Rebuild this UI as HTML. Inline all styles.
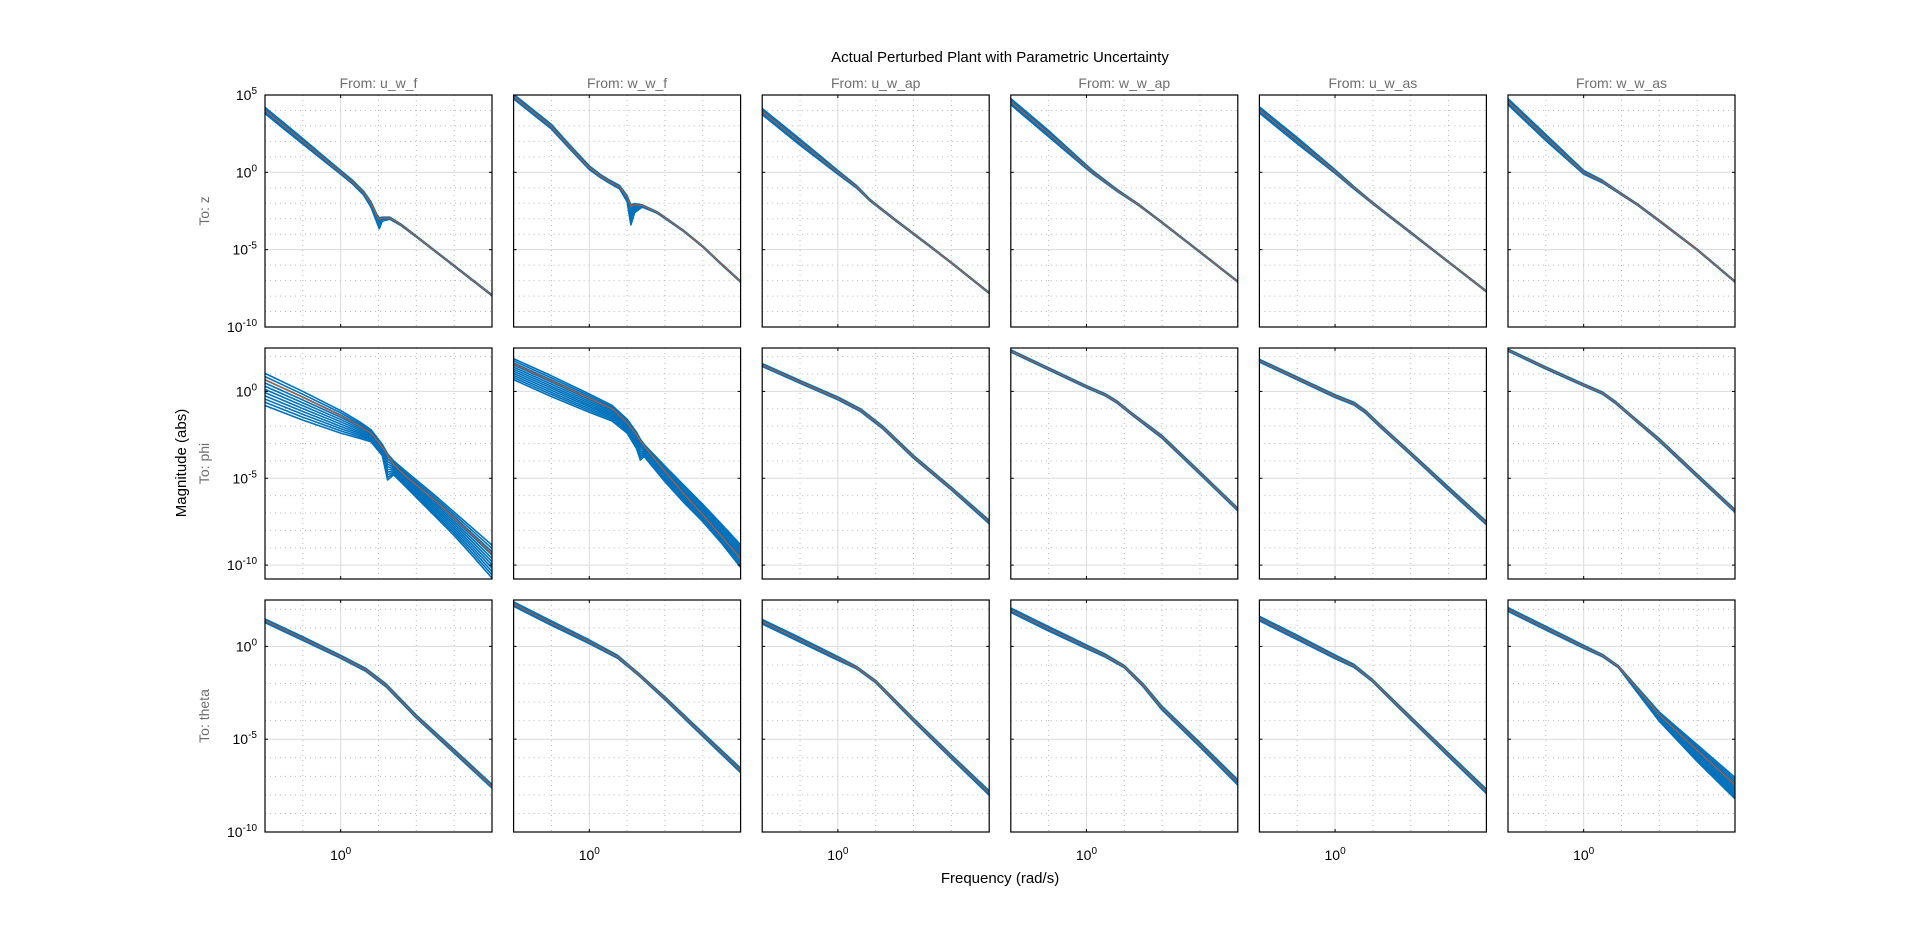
<!DOCTYPE html>
<html><head><meta charset="utf-8">
<style>
html,body{margin:0;padding:0;background:#fff;}
svg{display:block;font-family:"Liberation Sans",Arial,sans-serif;}
</style></head>
<body>
<svg id="fig" width="1920" height="936" viewBox="0 0 1920 936" xmlns="http://www.w3.org/2000/svg">
<rect width="1920" height="936" fill="#fff"/>
<text x="1000" y="62" font-size="15" text-anchor="middle" fill="#000">Actual Perturbed Plant with Parametric Uncertainty</text>
<text transform="translate(186,463) rotate(-90)" font-size="15" text-anchor="middle" fill="#000">Magnitude (abs)</text>
<text x="1000" y="883" font-size="15" text-anchor="middle" fill="#000">Frequency  (rad/s)</text>
<g id="panels"></g>
</svg>
<script>
// ---- data ----
const inputNames = ["u_w_f","w_w_f","u_w_ap","w_w_ap","u_w_as","w_w_as"];
const outputNames = ["z","phi","theta"];
const rowYLim = [[-10,5],[-10.8,2.5],[-10,2.5]];
const rowYTicks = [[5,0,-5,-10],[0,-5,-10],[0,-5,-10]];
const xLim = [-2,4];
// log10 frequency / log10 magnitude samples, per panel (row-major)
const xs = [
 [-2,-1.5,-1,-0.5,0,0.3,0.6,0.8,0.95,1.02,1.1,1.3,1.6,2,2.5,3,3.5,4],
 [-2,-1,-0.5,0,0.3,0.5,0.8,1.0,1.1,1.2,1.4,1.8,2.5,3,3.5,4],
 [-2,-1,0,0.5,0.85,1.5,2.5,3,4],
 [-2,-1,0,0.17,0.8,1.38,2,3,4],
 [-2,-1,0,0.5,1,2,3,4],
 [-2,-1,0,0.5,0.9,1.4,1.9,3,4],
 [-2,-1,0,0.5,0.8,1.1,1.24,1.4,1.7,2.5,3,3.5,4],
 [-2,-1,0,0.6,1.0,1.25,1.35,1.45,2,2.5,3,3.5,4],
 [-2,-1,0,0.6,1.2,2,3,4],
 [-2,-1,0,0.5,0.8,1.2,2,3,4],
 [-2,-1,0,0.5,0.8,1.2,2,3,4],
 [-2,-1,0,0.5,0.85,1.3,2,3,4],
 [-2,-1,0,0.67,1.2,2,3,4],
 [-2,-1,0,0.75,1.3,2,3,4],
 [-2,-1,0,0.5,1,2,3,4],
 [-2,-1,0,0.5,1,1.5,2,3,4],
 [-2,-1,0,0.5,0.97,2,3,4],
 [-2,-1,0,0.5,0.92,2,3,4]
];
const nominal = [
 [4.0,3.0,2.0,1.0,0,-0.6,-1.3,-2.0,-2.8,-3.05,-2.95,-2.95,-3.4,-4.15,-5.1,-6.05,-7.0,-7.95],
 [4.9,2.95,1.6,0.3,-0.25,-0.55,-0.95,-1.6,-2.2,-2.1,-2.15,-2.6,-3.8,-4.8,-5.95,-7.07],
 [3.93,1.95,0,-0.95,-1.8,-3.05,-4.9,-5.85,-7.8],
 [4.57,2.5,0.35,0,-1.15,-2.1,-3.25,-5.15,-7.07],
 [4.03,2.05,0.05,-1.0,-2.0,-3.9,-5.8,-7.7],
 [4.57,2.25,0,-0.6,-1.25,-2.05,-2.95,-5.0,-7.07],
 [0.69,-0.35,-1.4,-2.0,-2.4,-3.2,-3.7,-4.2,-4.85,-6.3,-7.3,-8.3,-9.35],
 [1.58,0.6,-0.4,-1.0,-1.8,-2.5,-2.85,-3.15,-4.6,-5.9,-7.1,-8.35,-9.63],
 [1.52,0.55,-0.4,-1.08,-2.1,-3.77,-5.6,-7.52],
 [2.33,1.3,0.27,-0.2,-0.6,-1.3,-2.62,-4.7,-6.8],
 [1.77,0.75,-0.27,-0.7,-1.17,-2.0,-3.58,-5.6,-7.58],
 [2.38,1.35,0.37,-0.1,-0.65,-1.5,-2.8,-4.85,-6.88],
 [1.38,0.42,-0.56,-1.27,-2.1,-3.78,-5.65,-7.54],
 [2.28,1.25,0.25,-0.56,-1.5,-2.8,-4.75,-6.68],
 [1.33,0.35,-0.65,-1.15,-1.9,-3.96,-5.95,-7.9],
 [1.95,0.95,-0.02,-0.5,-1.09,-2.1,-3.33,-5.3,-7.33],
 [1.5,0.48,-0.56,-1.05,-1.81,-3.87,-5.85,-7.81],
 [1.99,0.98,-0.02,-0.5,-1.09,-3.69,-5.6,-7.46]
];
// uncertainty envelope offsets (decades) above / below nominal
const upperOff = [
 [0.2,0.2,0.18,0.15,0.12,0.12,0.1,0.1,0.1,0.1,0.05,0.05,0.04,0.03,0.03,0.03,0.03,0.03],
 [0.15,0.15,0.13,0.12,0.1,0.1,0.1,0.1,0.1,0.08,0.05,0.04,0.03,0.03,0.03,0.03],
 [0.2,0.2,0.12,0.08,0.05,0.04,0.03,0.03,0.03],
 [0.2,0.2,0.12,0.1,0.06,0.04,0.03,0.03,0.03],
 [0.2,0.2,0.12,0.08,0.05,0.04,0.03,0.03],
 [0.2,0.2,0.12,0.08,0.05,0.04,0.04,0.03,0.03],
 [0.35,0.35,0.3,0.25,0.2,0.15,0.1,0.2,0.3,0.3,0.35,0.4,0.5],
 [0.3,0.3,0.25,0.2,0.2,0.15,0.1,0.1,0.3,0.5,0.6,0.7,0.8],
 [0.08,0.08,0.08,0.08,0.08,0.08,0.08,0.1],
 [0.06,0.06,0.06,0.06,0.06,0.06,0.08,0.08,0.08],
 [0.08,0.08,0.08,0.08,0.08,0.08,0.08,0.1,0.1],
 [0.06,0.06,0.06,0.06,0.06,0.06,0.08,0.08,0.08],
 [0.1,0.1,0.08,0.08,0.08,0.08,0.1,0.1],
 [0.12,0.12,0.1,0.08,0.06,0.08,0.1,0.12],
 [0.12,0.12,0.1,0.06,0.06,0.08,0.1,0.12],
 [0.12,0.12,0.1,0.08,0.06,0.08,0.1,0.12,0.14],
 [0.12,0.12,0.1,0.08,0.06,0.08,0.1,0.12],
 [0.1,0.1,0.08,0.06,0.04,0.15,0.3,0.4]
];
const lowerOff = [
 [0.2,0.2,0.18,0.15,0.12,0.12,0.15,0.25,0.4,0.6,0.2,0.08,0.05,0.03,0.03,0.03,0.03,0.03],
 [0.15,0.15,0.13,0.12,0.1,0.1,0.12,0.3,1.2,0.5,0.1,0.05,0.03,0.03,0.03,0.03],
 [0.2,0.2,0.12,0.08,0.05,0.04,0.03,0.03,0.03],
 [0.2,0.2,0.12,0.1,0.06,0.04,0.03,0.03,0.03],
 [0.2,0.2,0.12,0.08,0.05,0.04,0.03,0.03],
 [0.2,0.2,0.12,0.08,0.05,0.04,0.04,0.03,0.03],
 [1.5,1.3,1.0,0.7,0.5,0.5,1.4,0.6,0.6,0.9,1.0,1.2,1.4],
 [0.9,0.9,0.8,0.7,0.6,0.8,1.1,0.6,0.6,0.5,0.4,0.4,0.5],
 [0.08,0.08,0.08,0.08,0.08,0.08,0.08,0.1],
 [0.06,0.06,0.06,0.06,0.06,0.06,0.08,0.08,0.08],
 [0.08,0.08,0.08,0.08,0.08,0.08,0.08,0.1,0.1],
 [0.06,0.06,0.06,0.06,0.06,0.06,0.08,0.08,0.08],
 [0.1,0.1,0.08,0.08,0.08,0.08,0.1,0.1],
 [0.12,0.12,0.1,0.08,0.06,0.08,0.1,0.12],
 [0.12,0.12,0.1,0.06,0.06,0.08,0.1,0.12],
 [0.12,0.12,0.1,0.08,0.06,0.08,0.1,0.12,0.14],
 [0.12,0.12,0.1,0.08,0.06,0.08,0.1,0.12],
 [0.1,0.1,0.08,0.06,0.06,0.35,0.6,0.75]
];
const sampleFractions = [0,0.1,0.2,0.3,0.4,0.5,0.6,0.7,0.8,0.9,1];

// ---- layout ----
const colLeft = [265,513.6,762.2,1010.8,1259.4,1508];
const panelW = 227;
const rowTop = [95,348,600];
const rowBottom = [327,579,832];
const NS = "http://www.w3.org/2000/svg";
const root = document.getElementById('panels');
function mk(tag, attrs, parent){
  const e = document.createElementNS(NS, tag);
  for (const k in attrs) e.setAttribute(k, attrs[k]);
  (parent||root).appendChild(e);
  return e;
}
function supLabel(parent, x, y, exp, anchor){
  const t = mk('text', {x:x, y:y, 'font-size':14, 'text-anchor':anchor, fill:'#000'}, parent);
  const b = document.createElementNS(NS,'tspan'); b.textContent='10'; t.appendChild(b);
  const s = document.createElementNS(NS,'tspan'); s.setAttribute('dy','-6'); s.setAttribute('font-size','10'); s.textContent=String(exp); t.appendChild(s);
  return t;
}

for (let r=0;r<3;r++){
  for (let c=0;c<6;c++){
    const idx = r*6+c;
    const L = colLeft[c], R = L+panelW, T = rowTop[r], B = rowBottom[r];
    const [y0,y1] = rowYLim[r];
    const sx = v => L + (v - xLim[0])/(xLim[1]-xLim[0])*panelW;
    const sy = v => B - (v - y0)/(y1-y0)*(B-T);
    const g = mk('g', {});
    
    
    const clipId = 'clip'+idx;
    const cp = mk('clipPath', {id:clipId}, g);
    mk('rect', {x:L, y:T, width:panelW, height:B-T}, cp);
    const grid = mk('g', {}, g);
    
    
    for (let d=xLim[0]+1; d<xLim[1]; d++){
      const X = sx(d);
      if (d===0) mk('line',{x1:X,x2:X,y1:T,y2:B,stroke:'#dcdcdc','stroke-width':1},grid);
      else mk('line',{x1:X,x2:X,y1:T,y2:B,stroke:'#b8b8b8','stroke-width':1,'stroke-dasharray':'1 4'},grid);
    }
    for (let d=Math.ceil(y0); d<=Math.floor(y1); d++){
      const Y = sy(d);
      if (Y<=T+0.5 || Y>=B-0.5) continue;
      if (d%5===0) mk('line',{x1:L,x2:R,y1:Y,y2:Y,stroke:'#dcdcdc','stroke-width':1},grid);
      else mk('line',{x1:L,x2:R,y1:Y,y2:Y,stroke:'#b8b8b8','stroke-width':1,'stroke-dasharray':'1 4'},grid);
    }
    const curves = mk('g', {'clip-path':'url(#'+clipId+')'}, g);
    
    
    const X = xs[idx], N = nominal[idx], U = upperOff[idx], D = lowerOff[idx];
    sampleFractions.forEach((f,k) => {
      const pts = X.map((xv,i) => sx(xv).toFixed(2)+','+sy(N[i] + U[i] - f*(U[i]+D[i])).toFixed(2)).join(' ');
      const pl = mk('polyline', {points:pts, fill:'none', stroke:'#0072BD', 'stroke-width':1.6, 'stroke-linejoin':'round'}, curves);
      
      
    });
    const npts = X.map((xv,i) => sx(xv).toFixed(2)+','+sy(N[i]).toFixed(2)).join(' ');
    const nl = mk('polyline', {points:npts, fill:'none', stroke:'#D95319', 'stroke-width':1}, curves);
    
    
    const fr = mk('rect', {x:L, y:T, width:panelW, height:B-T, fill:'none', stroke:'#000', 'stroke-width':1.2}, g);
    
    
    for (const d of rowYTicks[r]){
      const Y = sy(d);
      mk('line',{x1:L,x2:L+3,y1:Y,y2:Y,stroke:'#000'},g);
      mk('line',{x1:R-3,x2:R,y1:Y,y2:Y,stroke:'#000'},g);
    }
    const X0 = sx(0);
    mk('line',{x1:X0,x2:X0,y1:B-3,y2:B,stroke:'#000'},g);
    mk('line',{x1:X0,x2:X0,y1:T,y2:T+3,stroke:'#000'},g);
    if (r===0){
      const t = mk('text', {x:(L+R)/2, y:88, 'font-size':14, 'text-anchor':'middle', fill:'#6e6e6e'}, g);
      t.textContent = 'From: ' + inputNames[c];
      
      
    }
    if (c===0){
      const t = mk('text', {transform:'translate(209,'+((T+B)/2)+') rotate(-90)', 'font-size':14, 'text-anchor':'middle', fill:'#6e6e6e'}, g);
      t.textContent = 'To: ' + outputNames[r];
      
      
      for (const d of rowYTicks[r]){
        const lab = supLabel(g, 257, sy(d)+5, d, 'end');
        
        
      }
    }
    if (r===2){
      const lab = supLabel(g, X0, 860, 0, 'middle');
      
      
    }
  }
}
</script>
</body></html>
